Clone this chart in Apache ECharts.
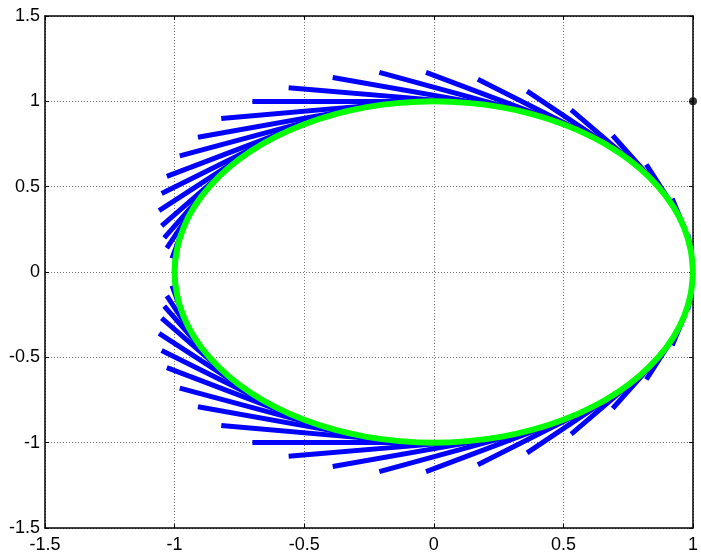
<!DOCTYPE html>
<html>
<head>
<meta charset="utf-8">
<script src="https://cdn.jsdelivr.net/npm/echarts@6/dist/echarts.min.js"></script>
<style>
  html, body { margin: 0; padding: 0; background: #fff; }
  #main { width: 701px; height: 554px; }
</style>
</head>
<body>
<div id="main"></div>
<script>
// points on the curve (green), every 7.5 degrees from angle 0
var pointX = [1, 0.991, 0.966, 0.924, 0.866, 0.793, 0.707, 0.609, 0.5, 0.383, 0.259, 0.131,
  0, -0.131, -0.259, -0.383, -0.5, -0.609, -0.707, -0.793, -0.866, -0.924, -0.966, -0.991,
  -1, -0.991, -0.966, -0.924, -0.866, -0.793, -0.707, -0.609, -0.5, -0.383, -0.259, -0.131,
  0, 0.131, 0.259, 0.383, 0.5, 0.609, 0.707, 0.793, 0.866, 0.924, 0.966, 0.991];
var pointY = [0, 0.131, 0.259, 0.383, 0.5, 0.609, 0.707, 0.793, 0.866, 0.924, 0.966, 0.991,
  1, 0.991, 0.966, 0.924, 0.866, 0.793, 0.707, 0.609, 0.5, 0.383, 0.259, 0.131,
  0, -0.131, -0.259, -0.383, -0.5, -0.609, -0.707, -0.793, -0.866, -0.924, -0.966, -0.991,
  -1, -0.991, -0.966, -0.924, -0.866, -0.793, -0.707, -0.609, -0.5, -0.383, -0.259, -0.131];
// outer ends of the blue tangent bars
var tipX = [1, 0.98, 0.92, 0.82, 0.69, 0.53, 0.36, 0.17, -0.03, -0.21, -0.39, -0.56,
  -0.7, -0.82, -0.91, -0.98, -1.03, -1.05, -1.06, -1.05, -1.04, -1.03, -1.01, -1.0,
  -1, -1.0, -1.01, -1.03, -1.04, -1.05, -1.06, -1.05, -1.03, -0.98, -0.91, -0.82,
  -0.7, -0.56, -0.39, -0.21, -0.03, 0.17, 0.36, 0.53, 0.69, 0.82, 0.92, 0.98];
var tipY = [0, 0.22, 0.43, 0.63, 0.8, 0.95, 1.06, 1.13, 1.17, 1.17, 1.14, 1.08,
  1.0, 0.9, 0.79, 0.68, 0.56, 0.46, 0.36, 0.27, 0.2, 0.14, 0.08, 0.04,
  0, -0.04, -0.08, -0.14, -0.2, -0.27, -0.36, -0.46, -0.56, -0.68, -0.79, -0.9,
  -1.0, -1.08, -1.14, -1.17, -1.17, -1.13, -1.06, -0.95, -0.8, -0.63, -0.43, -0.22];
var markPoint = [[1, 1]];

var xTicks = { min: -1.5, max: 1, interval: 0.5 };
var yTicks = { min: -1.5, max: 1.5, interval: 0.5 };

var myChart = echarts.init(document.getElementById("main"));

var bars = [];
var curve = [];
for (var i = 0; i < pointX.length; i++) {
  bars.push({ coords: [[pointX[i], pointY[i]], [tipX[i], tipY[i]]] });
  curve.push([pointX[i], pointY[i]]);
}
curve.push([pointX[0], pointY[0]]); // close the loop

var font = { fontFamily: "Liberation Sans, Arial, sans-serif", fontSize: 18, color: "#000" };

function axis(pos, ticks, showLabel, isY) {
  return {
    type: "value",
    position: pos,
    min: ticks.min,
    max: ticks.max,
    interval: ticks.interval,
    axisLine: { show: true, onZero: false, lineStyle: { color: "#000", width: 1.5 } },
    axisTick: { show: true, inside: true, length: 4, lineStyle: { color: "#000" } },
    axisLabel: Object.assign({ show: showLabel, margin: isY ? 5 : 8, padding: isY ? [4, 0, 0, 0] : 0 }, font),
    splitLine: showLabel
      ? { show: true, lineStyle: { color: "#777", type: [1, 2], width: 1 } }
      : { show: false },
  };
}

myChart.setOption({
  animation: false,
  grid: { left: 45, right: 4, top: 16, bottom: 25 },
  xAxis: [axis("bottom", xTicks, true, false), axis("top", xTicks, false, false)],
  yAxis: [axis("left", yTicks, true, true), axis("right", yTicks, false, true)],
  series: [
    {
      type: "lines",
      coordinateSystem: "cartesian2d",
      polyline: false,
      lineStyle: { color: "#0000ff", width: 5, opacity: 1 },
      data: bars,
      z: 2,
    },
    {
      type: "line",
      data: curve,
      showSymbol: false,
      smooth: 0.3,
      lineStyle: { color: "#00ff00", width: 6 },
      z: 3,
    },
    {
      type: "scatter",
      data: markPoint,
      symbolSize: 8,
      itemStyle: { color: "#000" },
      clip: false,
      z: 4,
    },
  ],
});
</script>
</body>
</html>
